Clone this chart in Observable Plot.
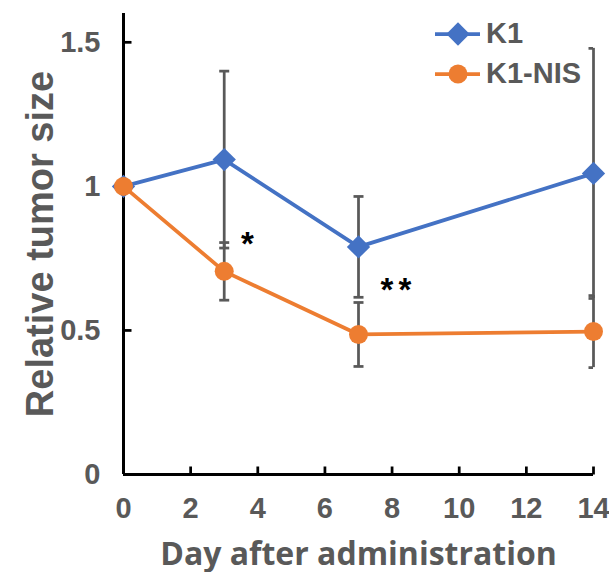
<!DOCTYPE html>
<html>
<head>
<meta charset="utf-8">
<script src="https://cdn.jsdelivr.net/npm/d3@7"></script>
<script src="https://cdn.jsdelivr.net/npm/@observablehq/plot@0.6"></script>
<style>
  html, body { margin: 0; padding: 0; background: white; }
  #wrap { position: relative; width: 609px; height: 572px; }
  .legend { position: absolute; left: 433px; display: flex; align-items: center;
    font-family: 'Liberation Sans', Arial, sans-serif; font-weight: bold; font-size: 29px; color: #595959; }
  .legend svg { display: block; margin-right: 1px; }
</style>
</head>
<body>
<div id="wrap"></div>
<script>
// ---- data ----
const days = [0, 3, 7, 14];
const seriesNames = ["K1", "K1-NIS"];
const k1Mean = [1.0, 1.093, 0.79, 1.045];
const k1Sd = [0, 0.307, 0.175, 0.434];
const nisMean = [1.0, 0.705, 0.486, 0.496];
const nisSd = [0, 0.10, 0.111, 0.125];
const xTicks = [0, 2, 4, 6, 8, 10, 12, 14];
const yTicks = [0, 0.5, 1, 1.5];
const annotDay = [3.69, 8.19];
const annotValue = [0.80, 0.64];
const annotText = ["*", "**"];
const xTitle = "Day after administration";
const yTitle = "Relative tumor size";

const colors = ["#4472C4", "#ED7D31"];
const means = [k1Mean, nisMean];
const sds = [k1Sd, nisSd];

const rows = [];
seriesNames.forEach((s, i) => days.forEach((d, j) => rows.push({series: s, day: d, mean: means[i][j], sd: sds[i][j]})));
const errRows = rows.filter(r => r.sd > 0);
const annots = annotText.map((t, i) => ({day: annotDay[i], value: annotValue[i], text: t}));

const font = "'Liberation Sans', Arial, sans-serif";
const grey = "#595959";

const capSymbol = {draw(ctx) { ctx.moveTo(-5, 0); ctx.lineTo(5, 0); }};
const yTickSymbol = {draw(ctx) { ctx.moveTo(0, 0); ctx.lineTo(8, 0); }};
const xTickSymbol = {draw(ctx) { ctx.moveTo(0, 0); ctx.lineTo(0, -8); }};

const chart = Plot.plot({
  width: 609, height: 572,
  marginLeft: 123, marginRight: 16, marginTop: 13, marginBottom: 98,
  style: {fontFamily: font, color: grey, fontWeight: "bold", background: "white", overflow: "visible"},
  x: {domain: [0, 14]},
  y: {domain: [0, 1.6]},
  color: {domain: seriesNames, range: colors},
  marks: [
    Plot.axisX({ticks: xTicks, tickSize: 0, tickPadding: 23, fontSize: 29, label: null}),
    Plot.axisY({ticks: yTicks, tickSize: 0, tickPadding: 23, fontSize: 29, label: null, tickFormat: d => String(d)}),
    // axis lines and inner ticks
    Plot.ruleX([0], {y1: 0, y2: 1.6, stroke: "black", strokeWidth: 3}),
    Plot.ruleY([0], {x1: 0, x2: 14, stroke: "black", strokeWidth: 3}),
    Plot.dot(yTicks.filter(v => v > 0), {x: 0, y: d => d, symbol: yTickSymbol, stroke: "black", strokeWidth: 2.75, fill: "none"}),
    Plot.dot(xTicks.filter(v => v > 0), {x: d => d, y: 0, symbol: xTickSymbol, stroke: "black", strokeWidth: 2.75, fill: "none"}),
    // error bars
    Plot.ruleX(errRows, {x: "day", y1: r => r.mean - r.sd, y2: r => r.mean + r.sd, stroke: grey, strokeWidth: 2.75}),
    Plot.dot(errRows, {x: "day", y: r => r.mean + r.sd, symbol: capSymbol, stroke: grey, strokeWidth: 2.75, fill: "none", clip: true}),
    Plot.dot(errRows, {x: "day", y: r => r.mean - r.sd, symbol: capSymbol, stroke: grey, strokeWidth: 2.75, fill: "none", clip: true}),
    // series
    Plot.line(rows, {x: "day", y: "mean", z: "series", stroke: "series", strokeWidth: 3.75}),
    Plot.dot(rows.filter(r => r.series === seriesNames[0]), {x: "day", y: "mean", fill: "series", symbol: "diamond2", r: 10.5, stroke: "none"}),
    Plot.dot(rows.filter(r => r.series === seriesNames[1]), {x: "day", y: "mean", fill: "series", symbol: "circle", r: 9.5, stroke: "none"}),
    // significance marks
    Plot.text(annots, {x: "day", y: "value", text: "text", fontSize: 33, fontWeight: "bold", fill: "black"}),
    // titles
    Plot.text([yTitle], {text: d => d, frameAnchor: "left", textAnchor: "middle", lineAnchor: "middle", rotate: -90, dx: -83, fontSize: 38, fontWeight: "bold", fill: grey}),
    Plot.text([xTitle], {text: d => d, frameAnchor: "bottom", textAnchor: "middle", dy: 90, fontSize: 32, fontWeight: "bold", fill: grey, fontFamily: "'Open Sans', sans-serif"})
  ]
});

d3.select(chart).selectAll("text")
  .filter(function() { return this.textContent === "**"; })
  .style("letter-spacing", "5px");

const wrap = document.getElementById("wrap");
wrap.appendChild(chart);

// legend
seriesNames.forEach((s, i) => {
  const item = document.createElement("div");
  item.className = "legend";
  item.style.top = (32 + 40 * i - 15) + "px";
  const svg = d3.create("svg").attr("width", 52).attr("height", 30);
  svg.append("line").attr("x1", 2).attr("x2", 47).attr("y1", 15).attr("y2", 15)
    .attr("stroke", colors[i]).attr("stroke-width", 3.75);
  const sym = i === 0 ? d3.symbolDiamond2 : d3.symbolCircle;
  const r = i === 0 ? 10.5 : 9.5;
  svg.append("path").attr("transform", "translate(25,15)")
    .attr("d", d3.symbol(sym, r * r * Math.PI)()).attr("fill", colors[i]);
  item.appendChild(svg.node());
  const span = document.createElement("span");
  span.textContent = s;
  item.appendChild(span);
  wrap.appendChild(item);
});
</script>
</body>
</html>
